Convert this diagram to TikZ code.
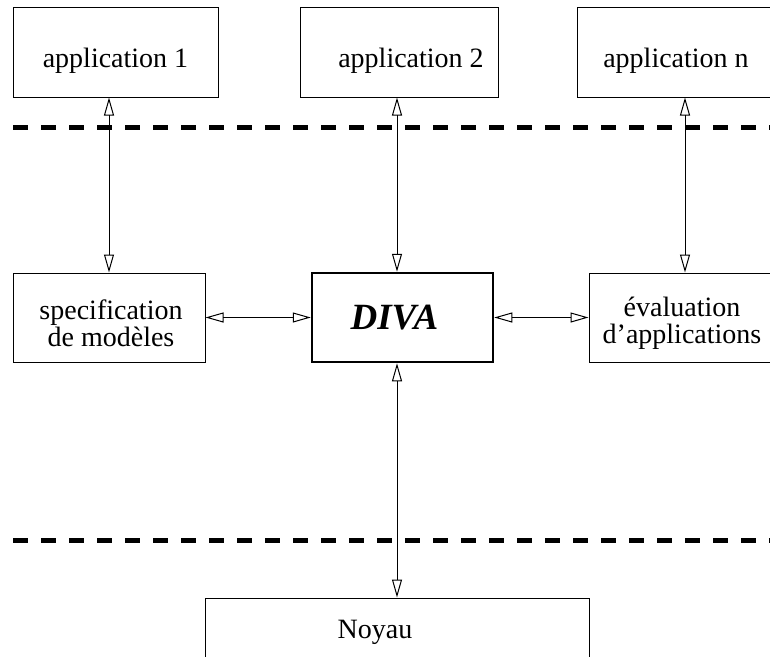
\documentclass[tikz,border=0pt]{standalone}
\usepackage{fontspec}
\setmainfont{Liberation Serif}
\usetikzlibrary{arrows.meta}
\begin{document}
\begin{tikzpicture}[x=1pt,y=-1pt,
  box/.style={draw, line width=1pt, inner sep=0pt},
  lbl/.style={font=\fontsize{28}{27}\selectfont, align=center, inner sep=0pt},
  core/.style={draw, line width=2.5pt, inner sep=0pt,
    font=\fontsize{37}{37}\selectfont\bfseries\itshape},
  tip/.style={Triangle[open,length=18pt,width=10pt]},
  link/.style={line width=1pt, {Triangle[open,length=18pt,width=10pt]}-{Triangle[open,length=18pt,width=10pt]}},
  layer/.style={line width=5pt, dash pattern=on 15pt off 13pt}]
\useasboundingbox (0,0) rectangle (770,656);

% applications
\node[box, minimum width=205pt, minimum height=90pt,
  label={[lbl, yshift=-9pt]center:application 1}] (app1) at (115.5,52) {};
\node[box, minimum width=198pt, minimum height=90pt,
  label={[lbl, yshift=-9pt, xshift=12pt]center:application 2}] (app2) at (399,52) {};
\node[box, minimum width=198pt, minimum height=90pt,
  label={[lbl, yshift=-9pt]center:application n}] (appn) at (676,52) {};

% layer separators
\coordinate (s1a) at (13,127);
\coordinate (s1b) at (775,127);
\coordinate (s2a) at (13,540);
\coordinate (s2b) at (775,540);
\draw[layer] (s1a) -- (s1b);
\draw[layer] (s2a) -- (s2b);

% middle row
\node[box, minimum width=192pt, minimum height=89pt,
  label={[lbl, yshift=-6pt, xshift=2pt]center:specification\\de modèles}] (spec) at (109,317.5) {};
\node[core, minimum width=181pt, minimum height=89pt] (diva) at (402.5,317.5) {\hspace*{-16pt}DIVA};
\node[box, minimum width=186pt, minimum height=89pt,
  label={[lbl, yshift=-6pt]center:évaluation\\d’applications}] (eval) at (682,317.5) {};

% kernel
\node[box, minimum width=384pt, minimum height=102pt] (noyau) at (397,649) {};
\node[lbl] (noyaulbl) at (375,632) {Noyau};

% connections
\draw[link] ([xshift=-6.5pt]app1.south) -- (spec.north);
\draw[link] ([xshift=-2pt]app2.south) -- ([xshift=-2pt]app2.south |- diva.north);
\draw[link] ([xshift=9pt]appn.south) -- ([xshift=9pt]appn.south |- eval.north);
\draw[link] (spec.east) -- (diva.west);
\draw[link] (diva.east) -- (eval.west);
\draw[link] ([xshift=-5.5pt]diva.south) -- ([xshift=-5.5pt]diva.south |- noyau.north);
\end{tikzpicture}
\end{document}
